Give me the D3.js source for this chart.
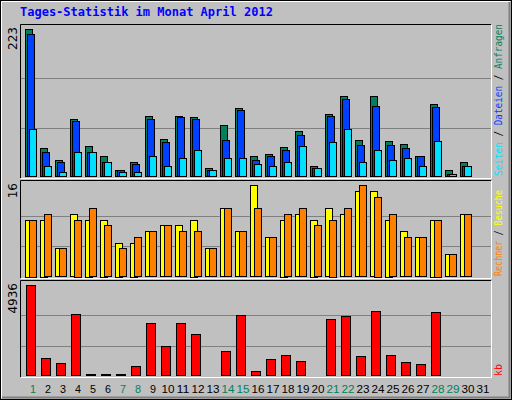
<!DOCTYPE html>
<html><head><meta charset="utf-8">
<script src="https://cdn.jsdelivr.net/npm/d3@7"></script>
<style>body{margin:0;background:#fff}</style>
</head><body>
<svg id="c" width="512" height="400"></svg>
<script>
var days = d3.range(1, 32);
var weekend = [1, 7, 8, 14, 15, 21, 22, 28, 29];
var hits  = [223,43,26,87,46,31,11,23,92,57,92,90,13,79,104,32,34,45,69,16,95,122,55,122,54,49,32,110,10,22,0];
var files = [216,38,23,84,37,23,10,20,88,52,90,87,10,55,101,26,31,40,63,13,92,117,48,107,48,43,31,105,5,16,0];
var pages = [72,16,8,38,37,22,8,8,31,16,28,41,10,29,28,19,16,22,46,13,52,73,23,41,26,28,16,54,5,16,0];
var visits = [10,10,5,11,10,10,6,6,8,9,9,10,5,12,8,16,7,10,11,10,12,11,15,15,10,8,7,10,4,11,0];
var sites  = [10,11,5,10,12,9,5,7,8,9,8,8,5,12,8,12,7,11,12,9,10,12,16,14,11,7,7,10,4,11,0];
var kbytes = [4936,991,721,3369,126,126,126,558,2882,1639,2882,2288,40,1369,3315,288,937,1153,829,40,3099,3261,1099,3531,1153,775,667,3477,40,40,0];

var svg = d3.select("#c");
var font = "'DejaVu Sans Mono', monospace";

// frame
svg.append("rect").attr("x", 0.5).attr("y", 0.5).attr("width", 511).attr("height", 399)
    .attr("fill", "#c0c0c0").attr("stroke", "#000");
svg.append("path").attr("d", "M1.5,398V1.5H510").attr("stroke", "#fff").attr("fill", "none");
svg.append("path").attr("d", "M2,397.5H509.5V2").attr("stroke", "#808080").attr("stroke-width", 2).attr("fill", "none");

svg.append("text").attr("x", 20).attr("y", 16).text("Tages-Statistik im Monat April 2012")
    .style("font-family", font).style("font-weight", "bold").style("font-size", "12px").attr("fill", "#0000ff");

var x = d3.scaleBand().domain(days).range([25, 490]).paddingInner(0).paddingOuter(0);

function panel(y0, y1, max, label) {
    var g = svg.append("g");
    var y = d3.scaleLinear().domain([0, max]).range([y1, y0 + 4]);
    g.append("rect").attr("x", 21).attr("y", y0).attr("width", 470).attr("height", y1 - y0)
        .attr("fill", "#c0c0c0");
    [1, 2].forEach(function(i) {
        var gy = Math.round(y1 - (y1 - y0 - 4) * i / 3) + 0.5;
        g.append("line").attr("x1", 21).attr("x2", 491).attr("y1", gy).attr("y2", gy)
            .attr("stroke", "#808080").attr("stroke-width", 1);
    });
    g.append("path").attr("d", "M20.5," + (y1 + 1) + "V" + (y0 - 0.5) + "H491")
        .attr("stroke", "#000").attr("fill", "none");
    g.append("path").attr("d", "M21," + (y1 + 1.5) + "H491.5V" + y0)
        .attr("stroke", "#fff").attr("fill", "none");
    g.append("text").attr("transform", "translate(17," + (y0 + 2) + ") rotate(-90)")
        .attr("text-anchor", "end").text(label)
        .style("font-family", "'DejaVu Sans', sans-serif").style("font-size", "12px").attr("fill", "#000");
    return y;
}

function bars(y, data, off, w, color) {
    svg.append("g").selectAll("rect").data(data).join("rect")
        .filter(function(d) { return d > 0; })
        .attr("x", function(d, i) { return Math.round(x(i + 1)) + off + 0.5; })
        .attr("y", function(d) { return Math.round(y(d)) + 0.5; })
        .attr("width", w)
        .attr("height", function(d) { return Math.max(0, Math.round(y.range()[0] - y(d)) - 1); })
        .attr("fill", color).attr("stroke", "#000");
}

var yTop = panel(25, 177, 223, "223");
bars(yTop, hits, 0, 7, "#00805c");
bars(yTop, files, 2, 7, "#0040ff");
bars(yTop, pages, 4, 7, "#00e0ff");

var yMid = panel(181, 277, 16, "16");
bars(yMid, visits, 0, 7, "#ffff00");
bars(yMid, sites, 4, 7, "#ff8000");

var yBot = panel(281, 376, 4936, "4936");
bars(yBot, kbytes, 1, 9, "#ff0000");

// day labels
svg.append("g").selectAll("text").data(days).join("text")
    .attr("x", function(d) { return x(d) + 8; }).attr("y", 393)
    .attr("text-anchor", "middle").text(function(d) { return d; })
    .attr("textLength", function(d) { return d < 10 ? 6 : 13; })
    .attr("lengthAdjust", "spacingAndGlyphs")
    .style("font-family", "'Liberation Sans', sans-serif").style("font-size", "11px")
    .attr("fill", function(d) { return weekend.indexOf(d) >= 0 ? "#00805c" : "#000"; });

// right legends
function legend(yEnd, len, parts) {
    var t = svg.append("text").attr("transform", "translate(502," + yEnd + ") rotate(-90)")
        .attr("textLength", len).attr("lengthAdjust", "spacingAndGlyphs")
        .style("font-family", font).style("font-size", "10px");
    parts.forEach(function(p) { t.append("tspan").attr("fill", p[1]).text(p[0]); });
}
legend(176, 152, [["Seiten", "#00e0ff"], [" / ", "#000"], ["Dateien", "#0040ff"], [" / ", "#000"], ["Anfragen", "#00805c"]]);
legend(276, 86, [["Rechner", "#ff8000"], [" / ", "#000"], ["Besuche", "#ffff00"]]);
legend(376, 12, [["kb", "#ff0000"]]);
</script>
</body></html>
